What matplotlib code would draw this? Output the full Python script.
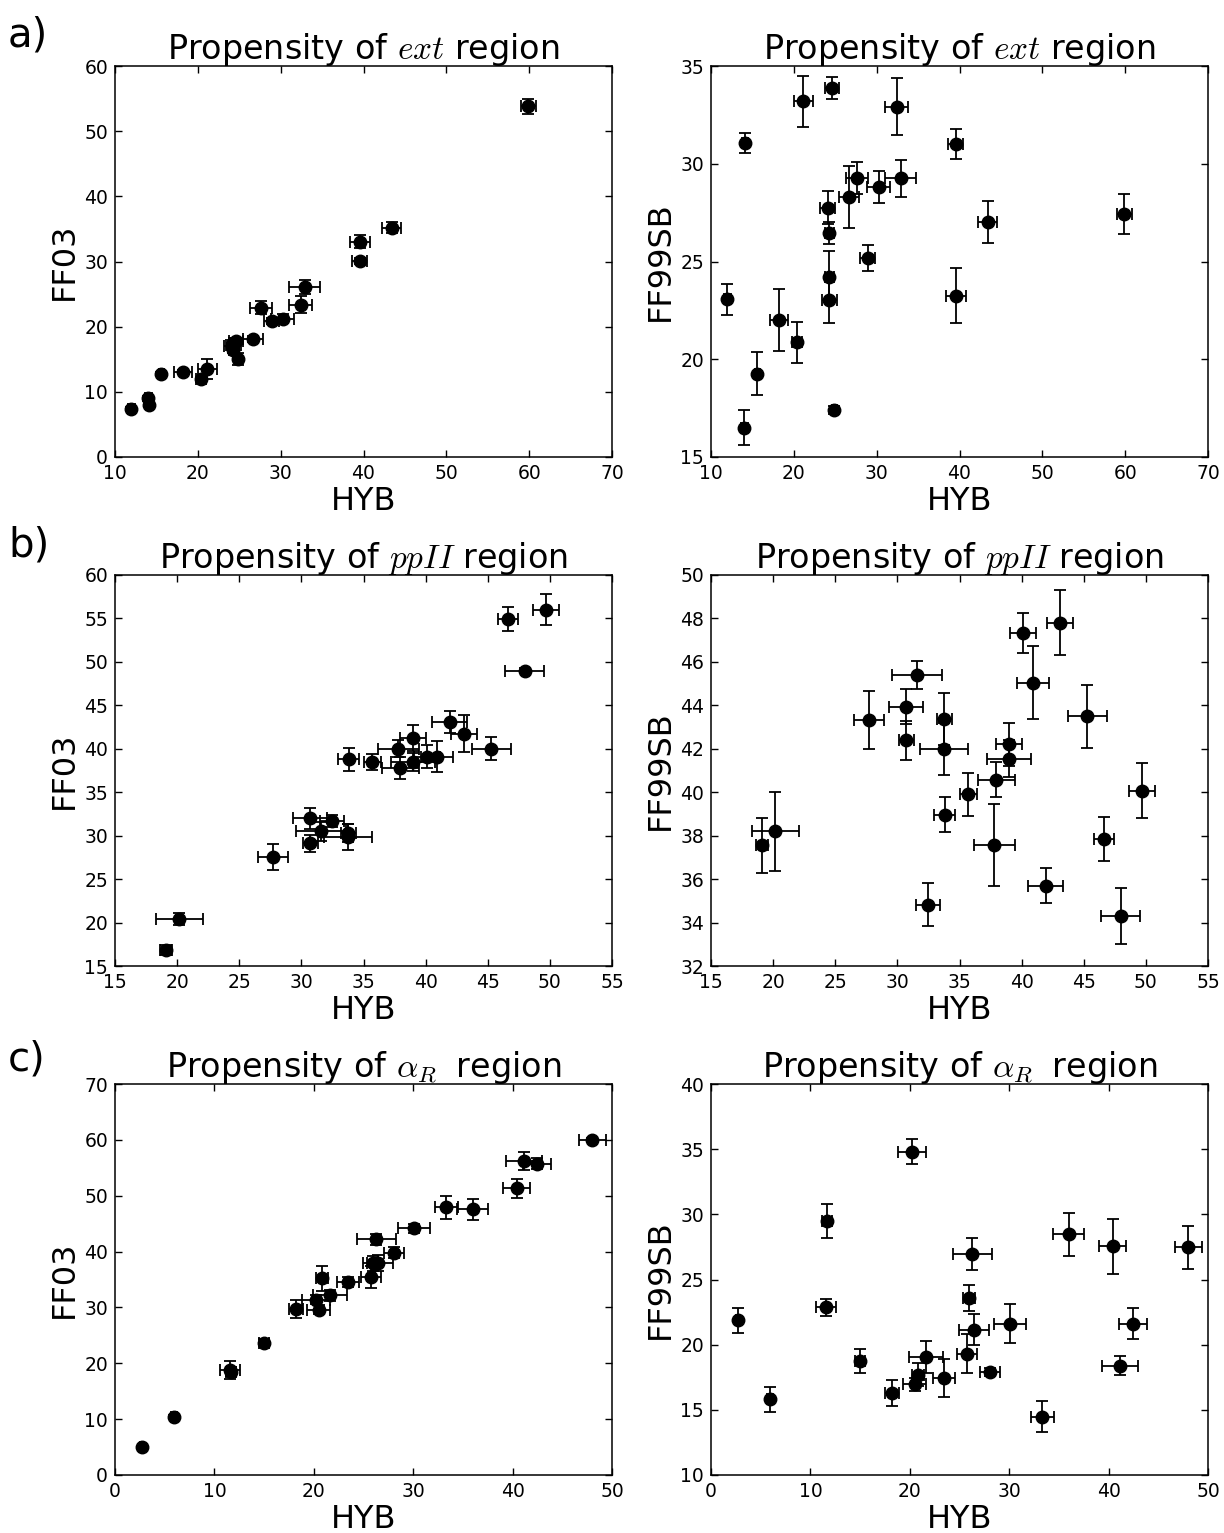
import matplotlib
matplotlib.use("Agg")
import matplotlib.pyplot as plt
from matplotlib.ticker import MultipleLocator

plt.rcParams['font.family'] = ['DejaVu Sans']
plt.rcParams['mathtext.fontset'] = 'cm'

# ---------------- data: row a (ext region) ----------------
hyb_a = [11.98, 14.1, 14.03, 15.6, 18.18, 20.43, 21.16, 24.1, 24.3, 24.3, 24.3, 24.6, 24.87,
         26.64, 27.65, 28.93, 30.27, 32.44, 32.89, 39.53, 39.53, 43.4, 59.88]
hyb_a_err = [0.4, 0.4, 0.4, 0.3, 1.1, 0.6, 1.1, 0.9, 0.5, 0.5, 0.9, 0.8, 0.3,
             1.2, 1.3, 0.9, 1.4, 1.4, 1.9, 0.9, 1.2, 1.15, 0.9]
ff03_a = [7.3, 8.0, 9.0, 12.7, 13.1, 11.9, 13.5, 17.0, 17.5, 16.4, 17.2, 17.8, 15.0,
          18.1, 22.9, 20.85, 21.2, 23.4, 26.1, 30.1, 33.0, 35.2, 53.8]
ff03_a_err = [0.3, 0.4, 0.4, 0.3, 0.3, 0.4, 1.5, 0.5, 0.5, 0.5, 0.5, 0.5, 0.9,
              0.5, 1.0, 0.5, 0.7, 1.3, 1.1, 0.5, 1.0, 0.9, 1.2]
ff99_a = [23.06, 31.05, 16.5, 19.26, 22.0, 20.88, 33.2, 27.76, 26.45, 24.23, 23.04, 33.88, 17.42,
          28.3, 29.26, 25.17, 28.83, 32.92, 29.26, 31.01, 23.26, 27.0, 27.42]
ff99_a_err = [0.8, 0.5, 0.9, 1.1, 1.6, 1.05, 1.3, 0.85, 0.55, 1.3, 1.2, 0.58, 0.2,
              1.6, 0.83, 0.68, 0.82, 1.46, 0.94, 0.78, 1.39, 1.07, 1.01]

# ---------------- data: row b (ppII region) ----------------
hyb_b = [19.09, 20.19, 27.7, 30.7, 30.7, 31.6, 32.47, 33.76, 33.76, 33.8, 35.7, 37.95, 37.8,
         38.98, 38.98, 40.1, 40.9, 41.93, 43.1, 45.3, 46.6, 47.97, 49.7]
hyb_b_err = [0.5, 1.9, 1.2, 1.4, 0.6, 2.0, 1.0, 0.6, 1.9, 0.85, 0.7, 1.5, 1.65,
             1.05, 1.8, 1.05, 1.28, 1.44, 1.05, 1.6, 0.8, 1.56, 1.05]
ff03_b = [16.84, 20.44, 27.5, 32.0, 29.1, 30.5, 31.7, 30.3, 29.9, 38.8, 38.5, 37.8, 40.0,
          41.2, 38.5, 39.1, 39.1, 43.1, 41.75, 40.0, 54.96, 48.98, 56.0]
ff03_b_err = [0.6, 0.7, 1.5, 1.2, 1.0, 1.1, 0.7, 1.0, 1.5, 1.3, 0.9, 1.3, 1.0,
              1.5, 1.0, 1.3, 1.8, 1.26, 2.1, 1.3, 1.4, 0.3, 1.8]
ff99_b = [37.56, 38.2, 43.33, 43.94, 42.4, 45.4, 34.83, 43.36, 42.0, 38.97, 39.9, 40.58, 37.56,
          42.2, 41.54, 47.34, 45.03, 35.7, 47.8, 43.5, 37.85, 34.3, 40.07]
ff99_b_err = [1.26, 1.81, 1.32, 0.8, 0.9, 0.64, 1.0, 1.2, 1.2, 0.8, 1.0, 0.8, 1.9,
              1.0, 0.85, 0.93, 1.68, 0.79, 1.5, 1.45, 1.0, 1.28, 1.26]

# ---------------- data: row c (alpha_R region) ----------------
hyb_c = [2.75, 5.98, 11.65, 11.58, 15.0, 18.23, 20.2, 20.48, 20.8, 21.66, 23.44, 25.75, 25.92,
         26.43, 26.3, 28.04, 30.1, 33.35, 35.99, 40.4, 41.13, 42.44, 48.02]
hyb_c_err = [0.2, 0.3, 0.5, 1.0, 0.5, 0.7, 1.38, 1.2, 0.6, 1.7, 1.1, 1.0, 0.6,
             1.5, 1.95, 1.0, 1.6, 1.2, 1.56, 1.36, 1.8, 1.38, 1.36]
ff03_c = [5.06, 10.36, 18.5, 18.8, 23.7, 29.7, 31.4, 29.6, 35.2, 32.2, 34.6, 35.5, 37.9,
          37.9, 42.2, 39.8, 44.2, 47.9, 47.6, 51.3, 56.2, 55.7, 60.0]
ff03_c_err = [0.2, 0.3, 0.8, 1.6, 0.6, 1.58, 0.8, 0.8, 2.2, 1.0, 0.9, 2.0, 1.3,
              1.4, 1.0, 1.0, 0.8, 2.0, 1.9, 1.7, 1.6, 1.0, 0.3]
ff99_c = [21.87, 15.8, 29.5, 22.87, 18.73, 16.3, 34.8, 16.97, 17.7, 19.04, 17.45, 19.3, 23.58,
          21.16, 26.98, 17.9, 21.6, 14.47, 28.48, 27.54, 18.4, 21.6, 27.46]
ff99_c_err = [0.96, 0.98, 1.3, 0.66, 0.93, 1.0, 0.97, 0.5, 0.9, 1.25, 1.46, 1.5, 1.03,
              1.2, 1.23, 0.3, 1.5, 1.17, 1.66, 2.1, 0.7, 1.19, 1.67]

titles = [r"Propensity of $ext$ region", r"Propensity of $ppII$ region",
          r"Propensity of $\alpha_R\;$ region"]
row_labels = ["a)", "b)", "c)"]
xlabel = "HYB"
ylabels = ["FF03", "FF99SB"]

rows = [
    (hyb_a, hyb_a_err, ff03_a, ff03_a_err, ff99_a, ff99_a_err),
    (hyb_b, hyb_b_err, ff03_b, ff03_b_err, ff99_b, ff99_b_err),
    (hyb_c, hyb_c_err, ff03_c, ff03_c_err, ff99_c, ff99_c_err),
]
# axis settings: (xlim, xstep, left ylim, left ystep, right ylim, right ystep)
limits = [
    ((10, 70), 10, (0, 60), 10, (15, 35), 5),
    ((15, 55), 5, (15, 60), 5, (32, 50), 2),
    ((0, 50), 10, (0, 70), 10, (10, 40), 5),
]

W, H = 1224, 1533
fig = plt.figure(figsize=(W / 100, H / 100), dpi=100)

col_left = [115, 711]
col_width = 497
row_top = [66, 575, 1084]
row_height = 391
label_top = [16, 525, 1040]

for r in range(3):
    hx, hxe, y1, y1e, y2, y2e = rows[r]
    xlim, xstep, yl1, ys1, yl2, ys2 = limits[r]
    for c in range(2):
        left = col_left[c] / W
        bottom = 1 - (row_top[r] + row_height) / H
        ax = fig.add_axes([left, bottom, col_width / W, row_height / H])
        yy, ye = (y1, y1e) if c == 0 else (y2, y2e)
        yl, ys = (yl1, ys1) if c == 0 else (yl2, ys2)
        ax.errorbar(hx, yy, xerr=hxe, yerr=ye, fmt='o', color='black',
                    markersize=9, ecolor='black', elinewidth=1.3,
                    capsize=4, capthick=1.3, zorder=3)
        ax.set_xlim(*xlim)
        ax.set_ylim(*yl)
        ax.xaxis.set_major_locator(MultipleLocator(xstep))
        ax.yaxis.set_major_locator(MultipleLocator(ys))
        ax.tick_params(direction='in', length=5, width=1, top=True, right=True,
                       labelsize=13.5, pad=5)
        for s in ax.spines.values():
            s.set_linewidth(1.1)
        ax.set_title(titles[r], fontsize=24, pad=5)
        ax.set_xlabel(xlabel, fontsize=23, labelpad=2)
        ax.set_ylabel(ylabels[c], fontsize=23, labelpad=3)
    fig.text(8 / W, 1 - label_top[r] / H, row_labels[r], fontsize=29,
             ha='left', va='top')

fig.savefig("out.png", dpi=100)
